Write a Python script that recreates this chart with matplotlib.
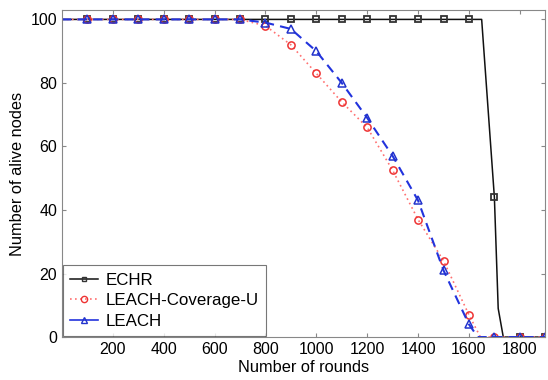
import numpy as np
import matplotlib
matplotlib.use("Agg")
from matplotlib import pyplot as plt
from matplotlib.lines import Line2D

plt.rcParams['font.family'] = ['Liberation Sans', 'DejaVu Sans']

# marker positions (every 100 rounds)
rounds = [100, 200, 300, 400, 500, 600, 700, 800, 900, 1000,
          1100, 1200, 1300, 1400, 1500, 1600, 1700, 1800, 1900]
echrAlive = [100, 100, 100, 100, 100, 100, 100, 100, 100, 100,
             100, 100, 100, 100, 100, 100, 44, 0, 0]
coverageAlive = [100, 100, 100, 100, 100, 100, 100, 98, 92, 83,
                 74, 66, 52.5, 37, 24, 7, 0, 0, 0]
leachAlive = [100, 100, 100, 100, 100, 100, 100, 99, 97, 90,
              80, 69, 57, 43, 21, 4, 0, 0, 0]

# line breakpoints
echrLineX = [0, 1650, 1700, 1715, 1735, 1900]
echrLineY = [100, 100, 44, 9, 0, 0]
coverageLineX = [0, 700, 800, 900, 1000, 1100, 1200, 1300, 1400, 1500, 1600, 1645, 1900]
coverageLineY = [100, 100, 98, 92, 83, 74, 66, 52.5, 37, 24, 7, 0, 0]
leachLineX = [0, 700, 800, 900, 1000, 1100, 1200, 1300, 1400, 1500, 1600, 1635, 1900]
leachLineY = [100, 100, 99, 97, 90, 80, 69, 57, 43, 21, 4, 0, 0]

xTicks = [200, 400, 600, 800, 1000, 1200, 1400, 1600, 1800]
yTicks = [0, 20, 40, 60, 80, 100]

fig = plt.figure(figsize=(5.48, 3.8), dpi=100)
ax = fig.add_axes([0.113, 0.113, 0.882, 0.861])

ax.plot(echrLineX, echrLineY, color='#111111', lw=1.1)
ax.plot(rounds, echrAlive, ls='none', marker='s', ms=4, mfc='none', mec='#333333', mew=1.3)

ax.plot(coverageLineX, coverageLineY, color='#ff7070', lw=1.2, ls=(0, (1, 2)))
ax.plot(rounds, coverageAlive, ls='none', marker='o', ms=5.2, mfc='none', mec='#ee3333', mew=1.1)

ax.plot(leachLineX, leachLineY, color='#2233dd', lw=1.5, ls=(0, (4.5, 3)))
ax.plot(rounds, leachAlive, ls='none', marker='^', ms=5.5, mfc='none', mec='#2233cc', mew=1.1)

ax.set_xlim(0, 1900)
ax.set_ylim(0, 103)
ax.set_xticks(xTicks)
ax.set_yticks(yTicks)
ax.tick_params(direction='in', top=True, right=True, labelsize=11.5, color='#888888', length=3)
for s in ax.spines.values():
    s.set_color('#888888')

ax.set_xlabel('Number of rounds', fontsize=11.8, labelpad=2)
ax.set_ylabel('Number of alive nodes', fontsize=11.8, labelpad=4)

handles = [
    Line2D([], [], color='#111111', lw=1.1, marker='s', ms=3.5, mfc='none', mec='#333333'),
    Line2D([], [], color='#ff7070', lw=1.2, ls=(0, (1, 2)), marker='o', ms=4.5, mfc='none', mec='#ee3333'),
    Line2D([], [], color='#2233dd', lw=1.2, marker='^', ms=4.5, mfc='none', mec='#2233cc'),
]
leg = ax.legend(handles, ['ECHR', 'LEACH-Coverage-U', 'LEACH'], loc='lower left',
                fontsize=12.2, frameon=True, fancybox=False, handlelength=1.6,
                handletextpad=0.45, borderpad=0.45, labelspacing=0.32,
                borderaxespad=0.05)
leg.get_frame().set_edgecolor('#555555')
leg.get_frame().set_linewidth(0.8)

fig.savefig('out.png', dpi=100)
